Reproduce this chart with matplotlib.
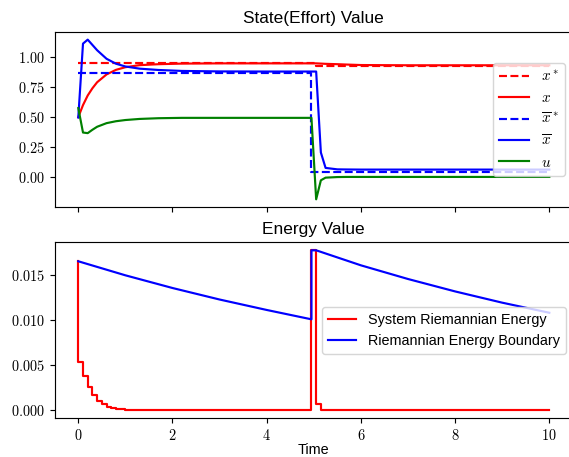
import matplotlib
matplotlib.use("Agg")
import matplotlib.pyplot as plt
from matplotlib.ticker import FormatStrFormatter

plt.rcParams['font.family'] = ['Liberation Sans', 'DejaVu Sans']
plt.rcParams['mathtext.fontset'] = 'cm'

# ---------------- data ----------------
# State plot
t_state = [0.0, 0.1, 0.2, 0.3, 0.4, 0.6, 0.8, 1.0, 1.3, 1.7, 2.2, 3.0, 4.0,
           4.95, 5.05, 5.15, 5.25, 5.5, 5.7, 6.0, 7.0, 8.0, 9.0, 10.0]
x_vals = [0.50, 0.60, 0.68, 0.74, 0.79, 0.855, 0.893, 0.915, 0.932, 0.940, 0.945, 0.947, 0.947,
          0.947, 0.947, 0.945, 0.943, 0.940, 0.937, 0.933, 0.931, 0.931, 0.931, 0.931]
xbar_vals = [0.497, 1.111, 1.144, 1.10, 1.056, 0.985, 0.944, 0.921, 0.903, 0.892, 0.884, 0.880, 0.879,
             0.879, 0.879, 0.206, 0.078, 0.066, 0.065, 0.064, 0.064, 0.064, 0.064, 0.064]
u_vals = [0.575, 0.372, 0.367, 0.395, 0.420, 0.450, 0.466, 0.476, 0.485, 0.491, 0.494, 0.494, 0.494,
          0.494, -0.183, -0.025, -0.003, 0.002, 0.003, 0.003, 0.003, 0.003, 0.003, 0.003]

t_xstar = [0.0, 5.05, 5.05, 10.0]
xstar_vals = [0.946, 0.946, 0.927, 0.927]
t_xbarstar = [0.0, 4.95, 4.95, 10.0]
xbarstar_vals = [0.865, 0.865, 0.044, 0.044]

# Energy plot
t_energy = [0.0, 0.1, 0.2, 0.3, 0.4, 0.5, 0.6, 0.7, 0.8, 0.9, 1.0, 1.1, 1.2, 1.3,
            4.95, 5.05, 5.15, 10.0]
energy_vals = [0.01656, 0.0054, 0.0038, 0.0026, 0.0017, 0.00105, 0.00065, 0.0004,
               0.00025, 0.00015, 0.0001, 0.00006, 0.00003, 0.0,
               0.0, 0.01778, 0.00065, 0.0]
t_bound = [0.0, 1.0, 2.0, 3.0, 4.0, 4.95, 4.95, 5.05, 6.0, 7.0, 8.0, 9.0, 10.0]
bound_vals = [0.01656, 0.01500, 0.01359, 0.01231, 0.01115, 0.01011,
              0.01778, 0.01778, 0.01611, 0.01459, 0.01321, 0.01196, 0.01084]

x_ticks = [0, 2, 4, 6, 8, 10]
state_ticks = [0.0, 0.25, 0.5, 0.75, 1.0]
energy_ticks = [0.0, 0.005, 0.010, 0.015]

# ---------------- figure ----------------
dpi = 103.5
fig = plt.figure(figsize=(569 / dpi, 457 / dpi), dpi=dpi)
ax1 = fig.add_axes([0.0962, 0.5464, 0.9106, 0.3843])
ax2 = fig.add_axes([0.0962, 0.0847, 0.9106, 0.3851], sharex=ax1)

ax1.plot(t_xstar, xstar_vals, 'r--', label=r'$x^*$')
ax1.plot(t_state, x_vals, 'r-', label=r'$x$')
ax1.plot(t_xbarstar, xbarstar_vals, 'b--', label=r'$\overline{x}^*$')
ax1.plot(t_state, xbar_vals, 'b-', label=r'$\overline{x}$')
ax1.plot(t_state, u_vals, 'g-', label=r'$u$')
ax1.set_title('State(Effort) Value')
ax1.legend(loc='center right', prop={'size': 10.5}, labelspacing=0.45)
ax1.set_yticks(state_ticks)
ax1.yaxis.set_major_formatter(FormatStrFormatter('$%.2f$'))
ax1.tick_params(labelbottom=False)

ax2.plot(t_energy, energy_vals, 'r-', drawstyle='steps-pre', label='System Riemannian Energy')
ax2.plot(t_bound, bound_vals, 'b-', label='Riemannian Energy Boundary')
ax2.set_title('Energy Value')
ax2.legend(loc='center right')
ax2.set_yticks(energy_ticks)
ax2.yaxis.set_major_formatter(FormatStrFormatter('$%.3f$'))
ax2.set_xticks(x_ticks)
ax2.xaxis.set_major_formatter(FormatStrFormatter('$%d$'))
ax2.set_xlabel('Time', labelpad=0)

fig.savefig('out.png', dpi=dpi)
